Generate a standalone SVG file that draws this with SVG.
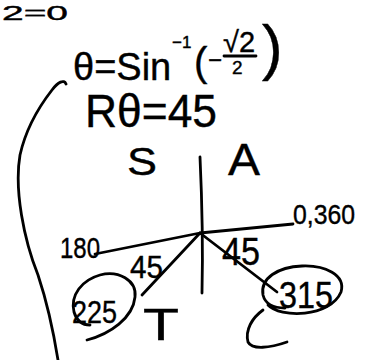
<svg xmlns="http://www.w3.org/2000/svg" width="377" height="360" viewBox="0 0 377 360">
<style>
.ink{fill:none;stroke:#000;stroke-width:2.8;stroke-linecap:round;stroke-linejoin:round}
text{font-family:"Liberation Sans","DejaVu Sans",sans-serif;fill:#000;stroke:#000;stroke-width:0.4}
</style>
<rect width="377" height="360" fill="#fff"/>
<g id="top-fragment">
<text x="2" y="20" font-size="20" textLength="66" lengthAdjust="spacingAndGlyphs">2=0</text>
</g>
<g id="equation">
<text x="73" y="80" font-size="38">θ=Sin</text>
<text x="172" y="48" font-size="17">−1</text>
<text x="194" y="76" font-size="40">(</text>
<text x="208" y="68" font-size="24">−</text>
<text x="223" y="52" font-size="29">√2</text>
<line class="ink" x1="224" y1="56" x2="256" y2="56"/>
<text x="232" y="74" font-size="19">2</text>
<text x="262" y="68" font-size="62">)</text>
</g>
<g id="reference-angle">
<text x="85" y="127" font-size="46" textLength="132" lengthAdjust="spacingAndGlyphs">Rθ=45</text>
</g>
<path id="bracket-left" class="ink" d="M66,84 C64,79 58,82 52,90 C38,108 26,128 20,155 C14,190 24,240 38,275 C48,305 54,335 58,360"/>
<g id="axes">
<path class="ink" d="M200,157 C202,200 203,250 202,293"/>
<path class="ink" d="M95,254 L200,233 L293,224"/>
<path class="ink" d="M200,233 L142,295"/>
<path class="ink" d="M200,233 L277,292"/>
</g>
<g id="labels">
<text x="127" y="175" font-size="38" textLength="30" lengthAdjust="spacingAndGlyphs">S</text>
<text x="228" y="175" font-size="44" textLength="32" lengthAdjust="spacingAndGlyphs">A</text>
<text x="143" y="340" font-size="44" textLength="36" lengthAdjust="spacingAndGlyphs">T</text>
<text x="60" y="258" font-size="30" textLength="40" lengthAdjust="spacingAndGlyphs">180</text>
<text x="293" y="224" font-size="28" textLength="62" lengthAdjust="spacingAndGlyphs">0,360</text>
<text x="130" y="278" font-size="32" textLength="33" lengthAdjust="spacingAndGlyphs">45</text>
<text x="222" y="265" font-size="38" textLength="38" lengthAdjust="spacingAndGlyphs">45</text>
</g>
<g id="node-315">
<path class="ink" d="M268,305 C280,318 330,318 341,292 C346,275 325,265 302,266 C278,267 260,278 263,295 C265,303 272,308 285,308"/>
<text x="279" y="308" font-size="36" textLength="54" lengthAdjust="spacingAndGlyphs">315</text>
<path class="ink" d="M263,310 C252,318 245,330 248,342 C252,350 270,348 287,342"/>
</g>
<g id="node-225">
<path class="ink" d="M87,340 C110,334 133,318 135,297 C137,280 118,270 100,275 C82,280 70,295 74,312 C77,322 84,325 90,325"/>
<text x="72" y="323" font-size="32" textLength="45" lengthAdjust="spacingAndGlyphs">225</text>
</g>
</svg>
